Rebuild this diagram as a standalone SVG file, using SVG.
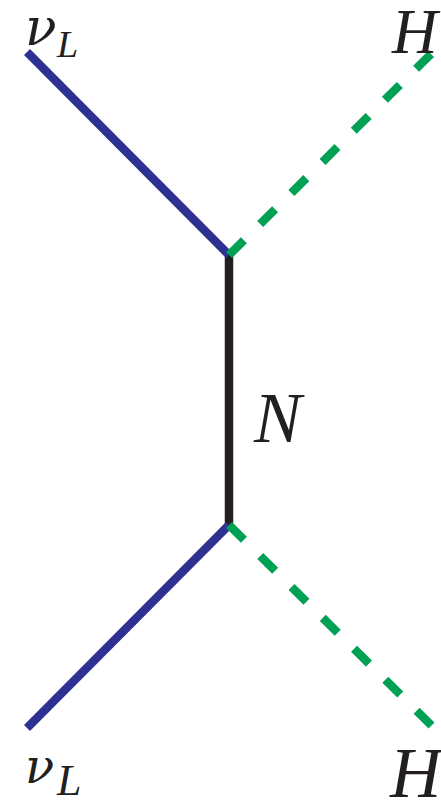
<svg xmlns="http://www.w3.org/2000/svg" width="441" height="804" viewBox="0 0 441 804">
<style>
.fermion{stroke:#2E3192;stroke-width:8.5;fill:none}
.heavy{stroke:#231F20;stroke-width:8.5;fill:none}
.scalar{stroke:#00A055;stroke-width:8.5;fill:none;stroke-dasharray:21 23}
.lbl{font-family:"Liberation Serif","Times New Roman",serif;font-style:italic;fill:#231F20}
.greek{font-family:"DejaVu Serif","Liberation Serif",serif;font-style:italic;fill:#231F20}
</style>
<rect width="441" height="804" fill="#fff"/>
<g id="connectors">
<line class="heavy" x1="229" y1="255" x2="229" y2="525"/>
<line class="fermion" x1="27" y1="52" x2="229" y2="255"/>
<line class="fermion" x1="27" y1="728" x2="229" y2="525"/>
<line class="scalar" x1="229" y1="255" x2="433" y2="52"/>
<line class="scalar" x1="229" y1="525" x2="433" y2="727"/>
</g>
<g id="nuL-top"><text class="greek" x="25" y="45" font-size="52">ν</text><text class="lbl" x="57" y="57" font-size="38">L</text></g>
<g id="H-top"><text class="lbl" x="392" y="53" font-size="63">H</text></g>
<g id="N"><text class="lbl" x="254" y="442" font-size="71">N</text></g>
<g id="nuL-bottom"><text class="greek" x="25" y="783" font-size="48">ν</text><text class="lbl" x="57" y="795" font-size="44">L</text></g>
<g id="H-bottom"><text class="lbl" x="390" y="797" font-size="71">H</text></g>
</svg>
